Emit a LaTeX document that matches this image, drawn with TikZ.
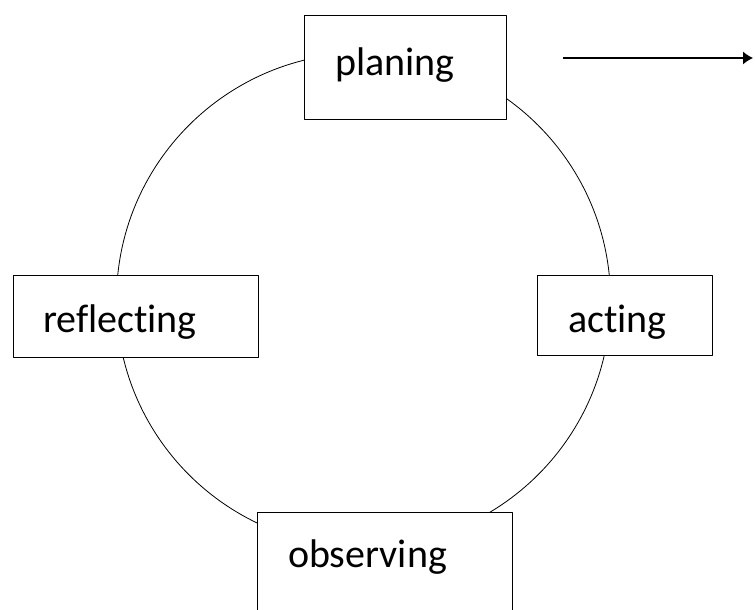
\documentclass[tikz,border=0pt]{standalone}
\usepackage{fontspec}
\setmainfont{Carlito}[Ligatures={NoCommon,NoRare,NoContextual}]
\usetikzlibrary{arrows.meta}
\tikzset{
  stage/.style={draw=black,rectangle,fill=white,line width=1bp,inner ysep=0bp,
    align=left,font=\fontsize{40bp}{48bp}\selectfont},
}
\begin{document}
\begin{tikzpicture}[>={Latex[length=10bp,width=13bp]},line join=bevel,]
\useasboundingbox (0bp,0bp) rectangle (755bp,610bp);
%%
\coordinate (centre) at (363.5bp,310bp);
\draw [line width=0.8bp] (centre) circle (247bp);
\node (planing) at (405bp,542bp) [stage,text width=140bp,inner xsep=31bp,minimum height=104bp,text height=16bp,text depth=0bp] {planing};
  \node (reflecting) at (135.5bp,293bp) [stage,text width=185bp,inner xsep=30bp,minimum height=82bp,text height=32bp,text depth=0bp] {reflecting};
  \node (acting) at (624.5bp,294bp) [stage,text width=113bp,inner xsep=31bp,minimum height=80bp,text height=34bp,text depth=0bp] {acting};
  \node (observing) at (384.5bp,33.5bp) [stage,text width=193bp,inner xsep=31bp,minimum height=127bp,text height=0bp,text depth=17bp] {observing};
  \coordinate (next_from) at (563bp,552bp);
  \coordinate (next_to) at (753bp,552bp);
  \draw [->,solid,line width=1.2bp] (next_from) -- (next_to);
%
\end{tikzpicture}
\end{document}
